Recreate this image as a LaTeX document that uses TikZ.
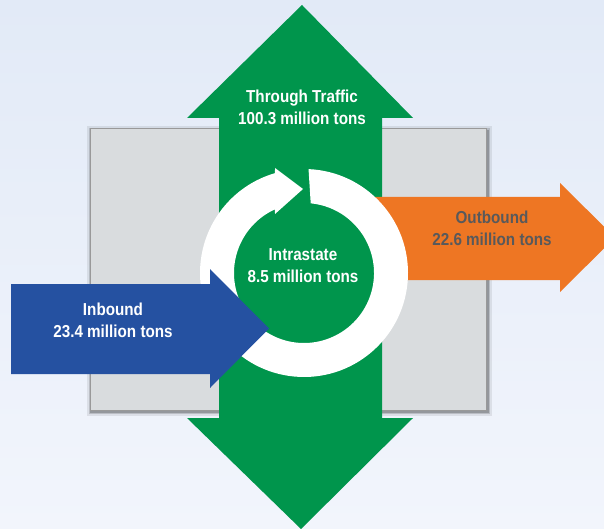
\documentclass[tikz,border=0pt]{standalone}
\usepackage{fontspec}
\setmainfont{Liberation Sans}[FakeStretch=0.88]
\usetikzlibrary{calc}
\definecolor{bgtop}{HTML}{E2EAF7}
\definecolor{bgbot}{HTML}{F2F5FC}
\definecolor{boxgray}{HTML}{D9DCDE}
\definecolor{tgreen}{HTML}{00954C}
\definecolor{tblue}{HTML}{2551A1}
\definecolor{torange}{HTML}{EE7623}
\definecolor{tdark}{HTML}{58595B}
\begin{document}
\begin{tikzpicture}[x=1pt,y=-1pt,
  lbl/.style={font=\bfseries\fontsize{17.3}{22}\selectfont, align=center, inner sep=0pt, text=white}]
\useasboundingbox (0,0) rectangle (604,529);
\begin{scope}
\clip (0,0) rectangle (604,529);
% background
\shade[top color=bgtop, bottom color=bgbot] (0,0) rectangle (604,529);
% gray panel with shadow
\fill[black,opacity=.08] (87,126) rectangle (492,416);
\fill[black,opacity=.15] (89,128) rectangle (490,414);
\fill[black,opacity=.20] (90,130) rectangle (489,413);
\fill[boxgray, draw=gray!80, line width=.6] (90,128) rectangle (486,410);
% through traffic arrow
\fill[tgreen] (219,118) -- (187,118) -- (302,5) -- (413,118) -- (382,118)
  -- (382,418) -- (413,418) -- (301,529) -- (187,418) -- (219,418) -- cycle;
% outbound arrow
\fill[torange] (375,197) -- (560,197) -- (560,183) -- (615,237.5)
  -- (560,292) -- (560,280) -- (375,280) -- cycle;
% intrastate ring
\coordinate (c) at (304,273);
\fill[white] ($(c)+(-87.5:104)$) arc[start angle=-87.5, end angle=253.8, radius=104]
  -- (275,168) -- (303,189) -- (275,214)
  -- ($(c)+(245.5:70)$) arc[start angle=245.5, end angle=-84.5, radius=70] -- cycle;
% inbound arrow
\fill[tblue] (11,284) -- (210,284) -- (210,269) -- (269,328.5) -- (210,388)
  -- (210,374) -- (11,374) -- cycle;
\end{scope}
% labels
\node[lbl] (through) at (302,107) {Through Traffic\\100.3 million tons};
\node[lbl] (intra) at (303,266) {Intrastate\\8.5 million tons};
\node[lbl, text=tdark] (out) at (492,228.5) {Outbound\\22.6 million tons};
\node[lbl] (in) at (113,320) {Inbound\\23.4 million tons};
\end{tikzpicture}
\end{document}
